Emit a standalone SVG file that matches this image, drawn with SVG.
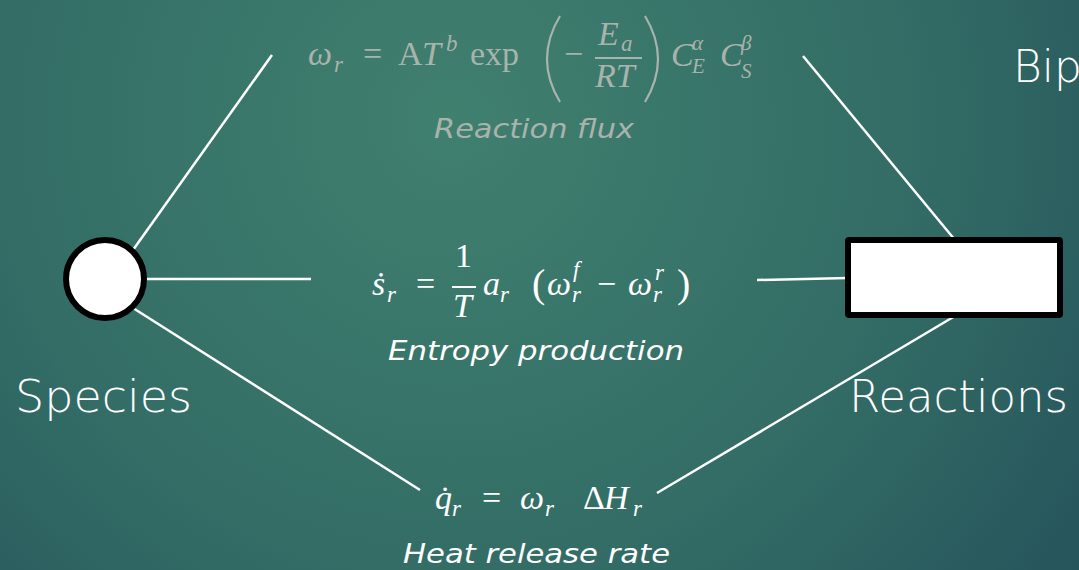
<svg xmlns="http://www.w3.org/2000/svg" width="1079" height="570" viewBox="0 0 1079 570">
<defs>
<radialGradient id="bg" cx="450" cy="120" r="820" gradientUnits="userSpaceOnUse">
<stop offset="0" stop-color="#40806f"/>
<stop offset="0.55" stop-color="#336d66"/>
<stop offset="1" stop-color="#24515a"/>
</radialGradient>
<style>
.conn line{stroke:#ffffff;stroke-width:2.5;fill:none}
.m{font-family:"Liberation Serif","DejaVu Serif",serif;font-size:34px;fill:#ffffff}
.mg{fill:#a9b3ad}
.i{font-style:italic}
.s{font-size:23px}
.lab{font-family:"DejaVu Sans","Liberation Sans",sans-serif;font-style:italic;font-weight:300;font-size:27px;fill:#ffffff;text-anchor:start}
.big{font-family:"DejaVu Sans","Liberation Sans",sans-serif;font-weight:300;font-size:44px;fill:#ffffff}
</style>
</defs>
<rect width="1079" height="570" fill="url(#bg)"/>
<g class="conn" id="connectors">
<line x1="133" y1="250" x2="272" y2="55"/>
<line x1="803" y1="56" x2="955" y2="240"/>
<line x1="145" y1="279" x2="311" y2="279"/>
<line x1="757" y1="280" x2="848" y2="278"/>
<line x1="133" y1="308" x2="420" y2="490"/>
<line x1="657" y1="493" x2="955" y2="316"/>
</g>
<g id="species">
<circle cx="105" cy="279" r="39" fill="#ffffff" stroke="#000000" stroke-width="6"/>
<text class="big" x="15" y="412" textLength="177" lengthAdjust="spacingAndGlyphs">Species</text>
</g>
<g id="reactions">
<rect x="848" y="240" width="212" height="75" fill="#ffffff" stroke="#000000" stroke-width="6" rx="1"/>
<text class="big" x="849" y="412" textLength="219" lengthAdjust="spacingAndGlyphs">Reactions</text>
</g>
<text class="big" x="1013" y="82">Bip</text>
<g id="flux">
<text class="m mg"><tspan class="i" x="308" y="65">ω</tspan><tspan class="i s" x="334" y="72">r</tspan><tspan x="363" y="65">=</tspan><tspan x="398" y="65">A</tspan><tspan class="i" x="422" y="65">T</tspan><tspan class="i s" x="446" y="51">b</tspan><tspan x="470" y="65">exp</tspan><tspan x="564" y="65">−</tspan><tspan class="i" x="598" y="45">E</tspan><tspan class="i s" x="621" y="51">a</tspan><tspan class="i" x="595" y="87">RT</tspan><tspan class="i" x="671" y="66">C</tspan><tspan class="i" x="692" y="50" font-size="21">α</tspan><tspan class="i" x="692" y="73" font-size="21">E</tspan><tspan class="i" x="720" y="66">C</tspan><tspan class="i" x="741" y="50" font-size="21">β</tspan><tspan class="i" x="741" y="78" font-size="21">S</tspan></text>
<line x1="595" y1="58" x2="642" y2="58" stroke="#a9b3ad" stroke-width="2"/>
<path d="M560,16 Q534,59 560,102" fill="none" stroke="#a9b3ad" stroke-width="2.2"/>
<path d="M645,16 Q671,59 645,102" fill="none" stroke="#a9b3ad" stroke-width="2.2"/>
<text class="lab" x="434" y="138" textLength="200" lengthAdjust="spacingAndGlyphs" style="fill:#a9b3ad">Reaction flux</text>
</g>
<g id="entropy">
<text class="m"><tspan class="i" x="372" y="295">ṡ</tspan><tspan class="i s" x="387" y="302">r</tspan><tspan x="416" y="295">=</tspan><tspan x="455" y="267">1</tspan><tspan class="i" x="453" y="317">T</tspan><tspan class="i" x="483" y="295">a</tspan><tspan class="i s" x="500" y="302">r</tspan><tspan x="532" y="297" font-size="40">(</tspan><tspan class="i" x="547" y="295">ω</tspan><tspan class="i s" x="573" y="277">f</tspan><tspan class="i s" x="572" y="302">r</tspan><tspan x="597" y="295">−</tspan><tspan class="i" x="628" y="295">ω</tspan><tspan class="i s" x="655" y="280">r</tspan><tspan class="i s" x="653" y="302">r</tspan><tspan x="677" y="297" font-size="40">)</tspan></text>
<line x1="452" y1="287" x2="476" y2="287" stroke="#ffffff" stroke-width="2"/>
<text class="lab" x="388" y="360" textLength="296" lengthAdjust="spacingAndGlyphs">Entropy production</text>
</g>
<g id="heat">
<text class="m"><tspan class="i" x="435" y="509">q̇</tspan><tspan class="i s" x="452" y="516">r</tspan><tspan x="482" y="509">=</tspan><tspan class="i" x="520" y="509">ω</tspan><tspan class="i s" x="545" y="516">r</tspan><tspan x="583" y="509">Δ</tspan><tspan class="i" x="604" y="509">H</tspan><tspan class="i s" x="633" y="516">r</tspan></text>
<text class="lab" x="403" y="563" textLength="267" lengthAdjust="spacingAndGlyphs">Heat release rate</text>
</g>
</svg>
